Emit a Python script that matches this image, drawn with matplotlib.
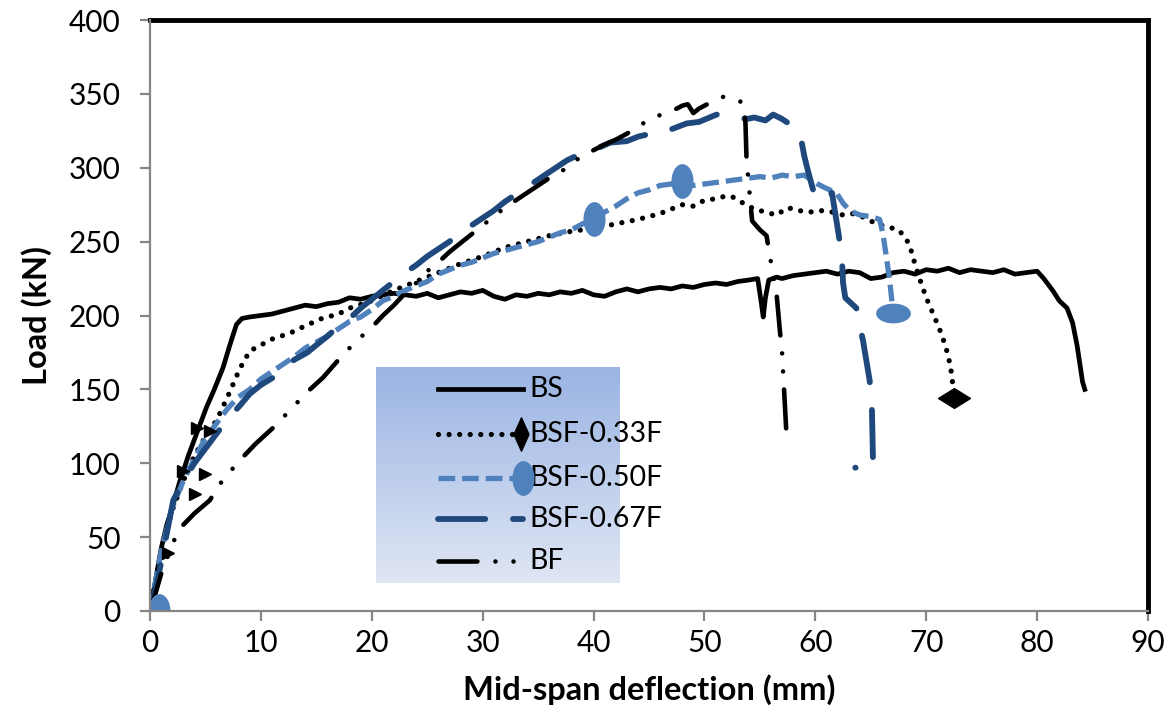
import numpy as np
import matplotlib
matplotlib.use("Agg")
import matplotlib.pyplot as plt

plt.rcParams['font.family'] = ['Lato', 'DejaVu Sans']
plt.rcParams['lines.scale_dashes'] = False

# ---- data (deflection mm, load kN) ----
bs_x = [0, 0.3, 0.6, 1.0, 1.5, 2.0, 2.7, 3.5, 4.3, 5.1, 5.8, 6.6, 7.2, 7.8, 8.3, 9.0, 10, 11, 12, 13,
        14, 15, 16, 17, 18, 19, 20, 21, 22, 23, 24, 25, 26, 27, 28, 29, 30, 31, 32, 33,
        34, 35, 36, 37, 38, 39, 40, 41, 42, 43, 44, 45, 46, 47, 48, 49, 50, 51, 52, 53,
        54, 54.8, 55.1, 55.3, 55.5, 55.8, 56.5, 57, 58, 59, 60, 61, 62, 63, 64, 65, 66, 67,
        68, 69, 70, 71, 72, 73, 74, 75, 76, 77, 78, 79, 80, 80.6, 81.4, 82.0, 82.7, 83.2,
        83.6, 83.9, 84.1, 84.3]
bs_y = [0, 12, 25, 42, 58, 70, 88, 106, 122, 138, 150, 165, 180, 194, 198, 199, 200, 201, 203, 205,
        207, 206, 208, 209, 212, 211, 213, 214, 215, 214, 213, 215, 212, 214, 216, 215, 217, 213, 211, 214,
        213, 215, 214, 216, 215, 217, 214, 213, 216, 218, 216, 218, 219, 218, 220, 219, 221, 222, 221, 223,
        224, 225, 210, 199, 212, 224, 226, 225, 227, 228, 229, 230, 228, 230, 229, 225, 226, 229,
        230, 228, 231, 230, 232, 229, 231, 230, 229, 231, 228, 229, 230, 225, 217, 210, 205, 195,
        180, 165, 155, 150]

f33_x = [0, 0.5, 1, 1.5, 2, 3, 4, 5, 6, 7, 8.1, 9, 10, 11, 12.6, 14, 15.5, 17, 18, 20,
         22, 24, 26, 28, 30, 32, 34, 36, 38, 40, 42, 44, 46, 48, 49, 50, 51, 52, 52.6, 53.5,
         54.5, 55.5, 56.5, 57.5, 58.5, 59.5, 60.5, 61.5, 62.5, 63.5, 64.5, 65.5, 66.5, 67.5, 68.2, 68.6,
         68.9, 69.4, 70, 70.8, 71.4, 71.9, 72.2, 72.4, 72.5]
f33_y = [0, 20, 40, 55, 68, 88, 105, 118, 129, 145, 164, 176, 180, 184, 188, 193, 198, 201, 205, 210,
         217, 223, 229, 235, 240, 246, 250, 254, 257, 259, 262, 265, 269, 275, 274, 278, 279, 281, 280, 276,
         272, 270, 268, 273, 271, 270, 271, 270, 268, 269, 266, 262, 260, 258, 252, 245,
         237, 225, 212, 198, 187, 175, 165, 153, 147]

f50_x = [0, 0.5, 1, 1.5, 2, 3, 4, 5, 6, 7, 8, 9, 10, 11, 12, 13, 14, 15, 16, 17,
         18, 19, 20, 21, 22, 23, 24, 25, 26, 27, 28, 29, 30, 31, 32, 33, 34, 35, 36, 37,
         38, 39, 40, 41, 42, 43, 44, 45, 46, 47, 48, 49, 50, 51, 52, 53, 54, 55, 56, 57,
         58, 59, 59.6, 60.2, 61, 61.9, 62.5, 63.1, 64, 65, 65.8, 66.1, 66.4, 66.7, 66.9, 67.0]
f50_y = [0, 20, 40, 55, 70, 88, 103, 117, 127, 137, 145, 150, 157, 162, 167, 172, 178, 182, 186, 191,
         196, 199, 204, 210, 213, 217, 220, 223, 228, 231, 234, 236, 239, 242, 244, 246, 248, 250, 253, 256,
         258, 262, 265, 270, 274, 279, 283, 285, 288, 289, 291, 288, 289, 290, 291, 292, 293, 294, 293, 295,
         294, 295, 292, 289, 286, 283, 276, 271, 268, 267, 265, 255, 240, 224, 210, 202]

f67_x = [0, 0.5, 0.9, 1.5, 2.1, 3, 4, 5.1, 6, 7, 8.1, 9, 10, 11.1, 12, 13, 14.2, 15, 16, 16.9,
         18, 19, 20, 21, 22, 23, 24, 25, 26, 27, 28, 29, 30, 31, 32, 33, 34, 35, 36, 37.6,
         39, 40, 41.5, 43, 44, 45.1, 46, 47, 48.4, 49.5, 51.1, 52, 53, 53.8, 54.5, 55.5, 56.2, 57,
         58, 58.6, 59.0, 59.4, 59.8, 60.1, 60.8, 61.5, 61.8, 62.1, 62.4, 62.5, 62.7, 63.7, 63.9, 64.3,
         64.9, 65.1, 65.2, 65.3, 64.5, 63.6]
f67_y = [0, 15, 29, 52, 75, 88, 100, 111, 120, 130, 139, 147, 153, 158, 164, 170, 175, 180, 186, 192,
         198, 205, 211, 217, 223, 229, 234, 240, 245, 250, 256, 261, 266, 271, 277, 282, 287, 292, 297, 305,
         310, 312, 317, 318, 321, 323, 325, 326, 330, 331, 336, 335, 334, 333, 334, 332, 336, 333,
         328, 324, 308, 296, 285, 278, 280, 283, 269, 255, 239, 222, 212, 205, 197, 183,
         156, 138, 102, 98, 97, 97]

bf_x = [0, 0.5, 1, 1.5, 2, 2.7, 4, 5.4, 6.5, 8.1, 9.5, 11.1, 12.9, 14, 15.6, 17, 18.5, 20, 21, 22,
        23, 24, 25, 26, 27, 28, 29, 30, 31, 32, 33, 34, 35, 36, 37.2, 38, 39, 40.8, 42, 43,
        44, 45.4, 46.5, 47.5, 48, 48.5, 49, 49.5, 50.5, 51.7, 52.5, 53.5, 53.7, 53.8, 54.3, 55,
        55.6, 55.9, 56.2, 56.5, 56.8, 57.0, 57.1, 57.2, 57.4]
bf_y = [0, 12, 25, 35, 45, 56, 66, 75, 88, 102, 113, 124, 138, 147, 158, 170, 182, 192, 200, 207,
        215, 222, 230, 236, 243, 249, 255, 261, 267, 273, 278, 283, 288, 293, 298, 303, 308, 315, 319, 323,
        328, 334, 337, 340, 342, 343, 337, 340, 344, 348, 347, 344, 330, 305, 264, 258,
        254, 240, 228, 215, 190, 175, 161, 147, 119]

# small black triangles near the origin
tri_x = [1.6, 3.0, 4.1, 5.0, 4.2, 5.4]
tri_y = [39, 95, 79, 93, 124, 122]

# blue round markers on BSF-0.50F
f50_mark_x = [40, 48, 0.8]
f50_mark_y = [265, 291, 0]

labels = ['BS', 'BSF-0.33F', 'BSF-0.50F', 'BSF-0.67F', 'BF']

light_blue = '#4f81bd'
dark_blue = '#1f497d'

t = np.linspace(0, 2 * np.pi, 60)
tall_ell = np.column_stack([0.62 * np.cos(t), np.sin(t)])
wide_ell = np.column_stack([np.cos(t), 0.55 * np.sin(t)])
flat_diam = [(-1, 0), (0, 0.62), (1, 0), (0, -0.62), (-1, 0)]
tall_diam = [(-0.45, 0), (0, 1), (0.45, 0), (0, -1), (-0.45, 0)]

styles = {
    'BS': dict(color='black', lw=3.4, ls='-'),
    'BSF-0.33F': dict(color='black', lw=3.8, ls=(0, (0.01, 7.6)), dash_capstyle='round'),
    'BSF-0.50F': dict(color=light_blue, lw=3.8, ls=(0, (12, 5))),
    'BSF-0.67F': dict(color=dark_blue, lw=4.2, ls=(0, (34, 20)), dash_capstyle='round'),
    'BF': dict(color='black', lw=3.3, ls=(0, (28, 13, 0.01, 13, 0.01, 13)), dash_capstyle='round'),
}

fig = plt.figure(figsize=(11.7, 7.2), dpi=100)
ax = fig.add_axes([150 / 1170, 1 - 611 / 720, 998 / 1170, 591 / 720])

ax.plot(bs_x, bs_y, **styles['BS'])
ax.plot(f33_x, f33_y, **styles['BSF-0.33F'])
ax.plot(f50_x, f50_y, **styles['BSF-0.50F'])
ax.plot(f67_x, f67_y, **styles['BSF-0.67F'])
ax.plot(bf_x, bf_y, **styles['BF'])

ax.plot(tri_x, tri_y, ls='none', marker='>', ms=8, color='black')
ax.plot(f50_mark_x, f50_mark_y, ls='none', marker=tall_ell, ms=24, color=light_blue)
ax.plot(f50_x[-1:], f50_y[-1:], ls='none', marker=wide_ell, ms=24, color=light_blue)
ax.plot(f33_x[-1:], [f33_y[-1] - 3], ls='none', marker=flat_diam, ms=23, color='black')

ax.set_xticks(np.arange(0, 91, 10))
ax.set_yticks(np.arange(0, 401, 50))

# legend drawn by hand (gradient box, text overflows the box like the original)
grad = np.linspace(0, 1, 100).reshape(-1, 1)
top_c = np.array([0x9a, 0xb4, 0xe3]) / 255
bot_c = np.array([0xdf, 0xe6, 0xf4]) / 255
img = top_c * (1 - grad[..., None]) + bot_c * grad[..., None]
ax.imshow(img, extent=[20.4, 42.4, 19, 164.7], aspect='auto', origin='upper', zorder=5)
row_y = [150, 120, 90, 62, 34]
for lab, yy in zip(labels, row_y):
    st = dict(styles[lab])
    ax.plot([26.0, 33.6], [yy, yy], zorder=6, **st)
    ax.text(34.2, yy, lab, fontsize=20.5, va='center', ha='left', zorder=7)
ax.plot([33.5], [120], marker=tall_diam, ms=24, color='black', zorder=7)
ax.plot([33.6], [90], marker=tall_ell, ms=24, color=light_blue, zorder=7)
ax.set_xlim(0, 90)
ax.set_ylim(0, 400)

for s in ['top', 'right']:
    ax.spines[s].set_color('black')
    ax.spines[s].set_linewidth(3.5)
for s in ['left', 'bottom']:
    ax.spines[s].set_color('#868686')
    ax.spines[s].set_linewidth(1.6)
    ax.spines[s].set_zorder(8)
ax.tick_params(direction='out', length=7, width=1.6, color='#868686',
               labelsize=21.5, top=False, right=False)
ax.tick_params(axis='y', pad=14)
ax.tick_params(axis='x', pad=6)

ax.set_xlabel('Mid-span deflection (mm)', fontsize=23.5, fontweight='bold', labelpad=12)
ax.set_ylabel('Load (kN)', fontsize=23.5, fontweight='bold', labelpad=12)

fig.savefig('out.png', dpi=100)
